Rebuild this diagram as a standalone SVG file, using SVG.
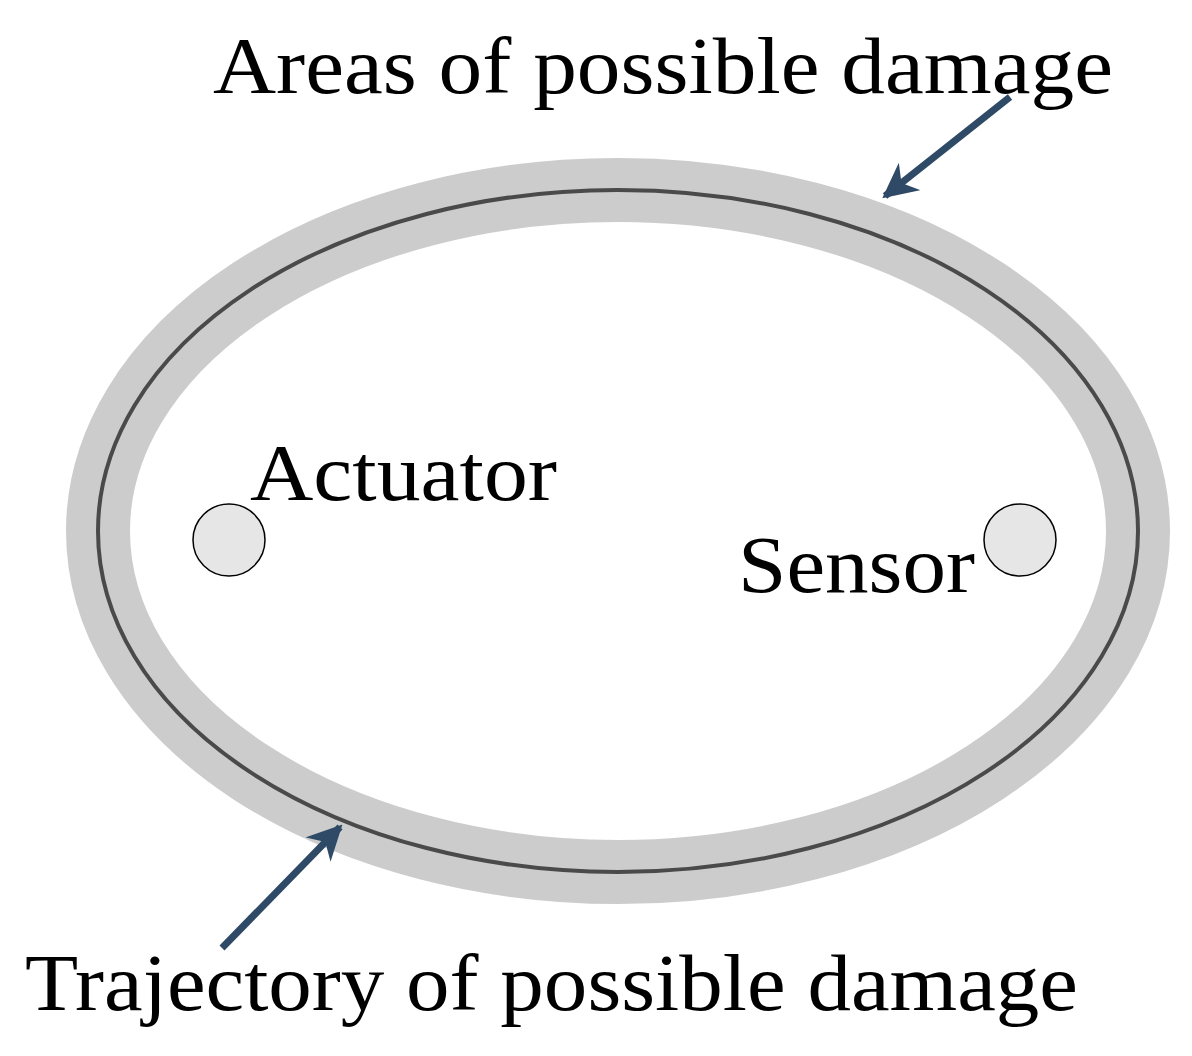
<svg xmlns="http://www.w3.org/2000/svg" width="1192" height="1056" viewBox="0 0 1192 1056">
<style>
.t{font-family:"Liberation Serif",serif;font-size:80px;fill:#000}
.s{fill:#e6e6e6;stroke:#000;stroke-width:1.5}
.a{stroke:#2e4a66;stroke-width:7;fill:none}
</style>
<defs><marker id="m" viewBox="0 0 10 10" refX="9" refY="5" markerWidth="5" markerHeight="5" orient="auto" markerUnits="strokeWidth"><path d="M0,0L10,5L0,10L3,5Z" fill="#2e4a66"/></marker></defs>
<rect width="1192" height="1056" fill="#fff"/>
<g id="area"><ellipse cx="618" cy="531" rx="520" ry="341" fill="none" stroke="#cccccc" stroke-width="64"/></g>
<g id="trajectory"><ellipse cx="618" cy="531" rx="520" ry="341" fill="none" stroke="#4a4a4a" stroke-width="4"/></g>
<g id="actuator"><circle class="s" cx="229" cy="540" r="36"/><text class="t" x="250" y="500" textLength="307" lengthAdjust="spacingAndGlyphs">Actuator</text></g>
<g id="sensor"><circle class="s" cx="1020" cy="540" r="36"/><text class="t" x="738" y="592" textLength="237" lengthAdjust="spacingAndGlyphs">Sensor</text></g>
<g id="labels">
<text class="t" x="213" y="93" textLength="900" lengthAdjust="spacingAndGlyphs">Areas of possible damage</text>
<text class="t" x="25" y="1010" textLength="1053" lengthAdjust="spacingAndGlyphs">Trajectory of possible damage</text>
</g>
<g id="connectors">
<line class="a" x1="1010" y1="97" x2="885" y2="196" marker-end="url(#m)"/>
<line class="a" x1="222" y1="948" x2="340" y2="827" marker-end="url(#m)"/>
</g>
</svg>
